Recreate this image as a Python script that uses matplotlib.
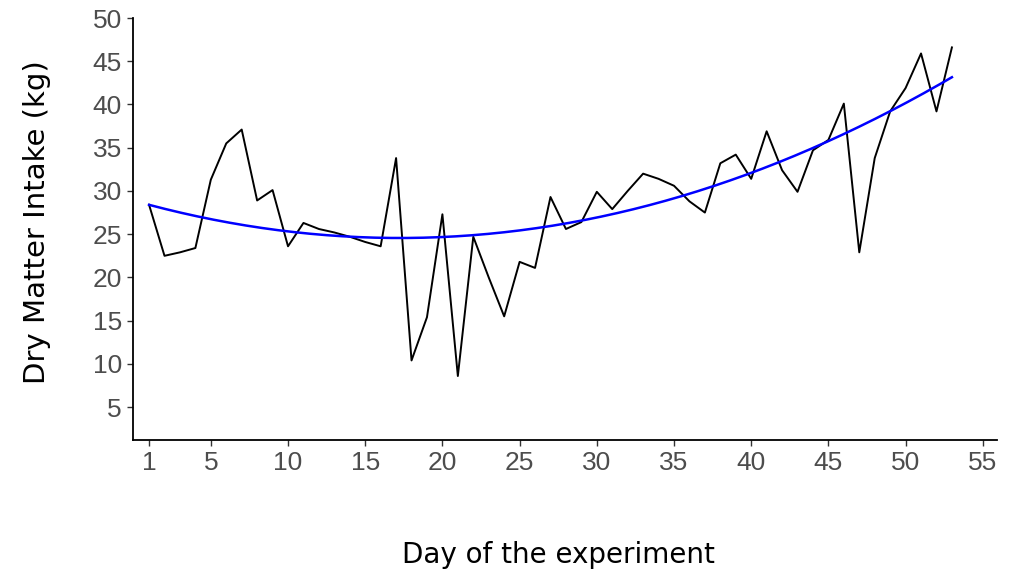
import numpy as np
import matplotlib
matplotlib.use("Agg")
import matplotlib.pyplot as plt

days = list(range(1, 54))
dmi = [28.4, 22.5, 22.9, 23.4, 31.3, 35.5, 37.1, 28.9, 30.1, 23.6,
       26.3, 25.6, 25.2, 24.7, 24.1, 23.6, 33.8, 10.4, 15.4, 27.3,
       8.6, 24.7, 20.0, 15.5, 21.8, 21.1, 29.3, 25.6, 26.4, 29.9,
       27.9, 30.0, 32.0, 31.4, 30.6, 28.8, 27.5, 33.2, 34.2, 31.4,
       36.9, 32.4, 29.9, 34.7, 35.9, 40.1, 22.9, 33.8, 39.2, 41.9,
       45.9, 39.2, 46.6]
# quadratic trend line at selected days
trend_days = [1, 5, 10, 15, 18, 20, 25, 30, 35, 40, 45, 50, 53]
trend_vals = [28.4, 26.8, 25.3, 24.6, 24.5, 24.6, 25.4, 27.2, 29.2, 31.85, 35.7, 40.5, 42.95]
xticks = [1, 5, 10, 15, 20, 25, 30, 35, 40, 45, 50, 55]
yticks = [5, 10, 15, 20, 25, 30, 35, 40, 45, 50]

x = np.array(days, dtype=float)
y = np.array(dmi)
coef = np.polyfit(trend_days, trend_vals, 2)
xs = np.linspace(min(trend_days), max(trend_days), 200)
ys = np.polyval(coef, xs)

W, H = 1012, 573
L, R, T, B = 133, 997, 18, 440
fig = plt.figure(figsize=(W / 100, H / 100), dpi=100)
ax = fig.add_axes([L / W, 1 - B / H, (R - L) / W, (B - T) / H])
ax.plot(x, y, color="black", lw=1.4)
ax.plot(xs, ys, color="#0000FF", lw=1.8)

ax.set_xlim(-0.04, 55.92)
ax.set_ylim(1.2, 50.0)
ax.set_xticks(xticks)
ax.set_yticks(yticks)
for s in ["top", "right"]:
    ax.spines[s].set_visible(False)
for s in ["left", "bottom"]:
    ax.spines[s].set_linewidth(1.3)
    ax.spines[s].set_color("black")
ax.tick_params(axis="both", direction="out", length=4, width=1.0, color="#333333",
               labelsize=19, labelcolor="#4D4D4D", pad=4)
for lab in ax.get_xticklabels() + ax.get_yticklabels():
    lab.set_fontfamily("Liberation Sans")

ax.set_xlabel("Day of the experiment", fontsize=20, fontfamily="DejaVu Sans")
ax.set_ylabel("Dry Matter Intake (kg)", fontsize=21, fontfamily="DejaVu Sans")
ax.xaxis.label.set_va("center")
ax.yaxis.label.set_va("center")
ax.xaxis.set_label_coords((558 - L) / (R - L), -(555 - B) / (B - T))
ax.yaxis.set_label_coords(-(L - 37) / (R - L), (B - 222) / (B - T))

fig.savefig("out.png", dpi=100)
